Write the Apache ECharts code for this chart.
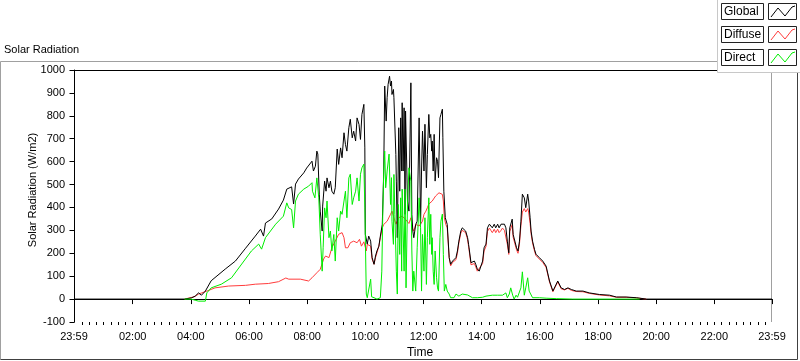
<!DOCTYPE html>
<html>
<head>
<meta charset="utf-8">
<script src="https://cdn.jsdelivr.net/npm/echarts@6/dist/echarts.min.js"></script>
<style>
  html, body { margin: 0; padding: 0; background: #fff; }
  #chart { width: 800px; height: 361px; }
</style>
</head>
<body>
<div id="chart"></div>
<script>
// time axis in minutes since midnight, -1 = 23:59 of the previous day
const timeTicks = [-1, 120, 240, 360, 480, 600, 720, 840, 960, 1080, 1200, 1320, 1439];
const timeTickLabels = ['23:59', '02:00', '04:00', '06:00', '08:00', '10:00', '12:00',
    '14:00', '16:00', '18:00', '20:00', '22:00', '23:59'];
const seriesNames = ['Global', 'Diffuse', 'Direct'];
const seriesColors = ['#000000', '#ff3c3c', '#00ee00'];

// [minute, W/m2]
const globalPoints = [
    [-1, 0], [227, 0], [241, 5], [249, 13], [256, 27], [262, 17], [270, 35], [282, 80], [311, 131],
    [332, 166], [353, 222], [373, 275], [384, 305], [390, 275], [394, 332], [407, 350], [421, 393],
    [431, 432], [438, 480], [448, 490], [452, 415], [456, 502], [462, 524], [473, 551], [479, 572],
    [483, 580], [490, 602], [493, 559], [497, 580], [500, 646], [502, 633], [505, 458], [507, 384],
    [511, 297], [512, 406], [516, 515], [519, 471], [521, 529], [525, 486], [528, 515], [531, 471],
    [535, 458], [538, 486], [542, 655], [545, 588], [549, 660], [552, 617], [556, 726], [559, 675],
    [562, 646], [566, 748], [569, 785], [573, 704], [576, 733], [580, 690], [583, 791], [587, 762],
    [590, 697], [593, 806], [597, 850], [599, 660], [600, 283], [604, 240], [607, 275], [611, 253],
    [614, 181], [618, 152], [621, 188], [624, 210], [628, 231], [631, 275], [635, 326], [638, 559],
    [640, 930], [643, 777], [645, 879], [647, 937], [650, 973], [652, 930], [654, 952], [655, 893],
    [658, 915], [659, 879], [663, 631], [664, 515], [666, 268], [669, 748], [671, 471], [673, 791],
    [675, 559], [676, 857], [678, 559], [680, 835], [682, 370], [683, 821], [687, 428], [690, 384],
    [694, 944], [696, 370], [698, 297], [700, 268], [704, 326], [707, 340], [711, 791], [714, 326],
    [716, 559], [718, 733], [721, 559], [723, 763], [726, 486], [728, 631], [731, 806], [733, 704],
    [735, 719], [737, 646], [738, 690], [740, 559], [742, 719], [744, 515], [747, 617], [749, 602],
    [751, 530], [754, 791], [756, 806], [759, 829], [760, 704], [762, 471], [765, 355], [769, 326],
    [773, 181], [776, 152], [780, 166], [783, 159], [787, 181], [790, 210], [793, 253], [797, 297],
    [800, 311], [804, 304], [807, 297], [811, 268], [813, 239], [814, 224], [818, 159], [821, 151],
    [825, 166], [828, 151], [831, 131], [835, 122], [842, 166], [845, 224], [849, 240], [852, 311],
    [856, 327], [859, 319], [862, 311], [866, 327], [869, 311], [873, 327], [876, 311], [880, 327],
    [883, 333], [887, 327], [890, 311], [893, 253], [896, 202], [898, 311], [903, 349], [905, 282],
    [909, 282], [912, 224], [915, 210], [918, 253], [921, 340], [924, 458], [928, 442], [931, 399],
    [935, 458], [937, 428], [940, 355], [942, 297], [945, 253], [949, 217], [952, 196], [959, 181],
    [966, 166], [973, 144], [980, 79], [987, 35], [990, 42], [997, 79], [1004, 49], [1011, 42],
    [1018, 49], [1025, 42], [1028, 49], [1035, 35], [1049, 35], [1062, 27], [1083, 20], [1104, 17],
    [1118, 9], [1138, 9], [1159, 6], [1180, 0], [1439, 0]
];

const diffusePoints = [
    [227, 0], [247, 10], [256, 22], [273, 35], [290, 49], [318, 57], [353, 60], [373, 65], [400, 68],
    [421, 76], [436, 92], [442, 87], [466, 87], [469, 79], [483, 79], [490, 93], [500, 115], [507, 130],
    [514, 175], [518, 188], [525, 181], [531, 224], [538, 253], [545, 283], [552, 290], [556, 268],
    [559, 224], [564, 224], [569, 246], [576, 253], [583, 246], [588, 261], [592, 231], [597, 250],
    [602, 210], [604, 239], [611, 231], [614, 175], [618, 152], [621, 181], [624, 202], [628, 231],
    [631, 268], [635, 311], [638, 326], [642, 319], [645, 340], [649, 348], [652, 370], [655, 384],
    [659, 355], [663, 327], [666, 333], [669, 355], [673, 348], [676, 362], [680, 370], [683, 348],
    [687, 355], [690, 330], [694, 355], [697, 311], [700, 297], [704, 326], [711, 319], [718, 340],
    [721, 370], [725, 384], [728, 399], [731, 415], [738, 428], [745, 450], [749, 458], [752, 464],
    [756, 469], [759, 457], [761, 428], [763, 355], [766, 326], [769, 311], [773, 181], [776, 145],
    [780, 160], [783, 152], [787, 172], [790, 200], [793, 245], [797, 288], [800, 300], [804, 295],
    [807, 290], [811, 260], [813, 230], [814, 215], [818, 150], [821, 145], [825, 155], [828, 140],
    [831, 122], [835, 115], [842, 155], [845, 210], [849, 230], [852, 295], [856, 310], [859, 300],
    [862, 290], [866, 305], [869, 290], [873, 305], [876, 290], [880, 300], [883, 310], [887, 300],
    [890, 295], [893, 240], [896, 195], [898, 295], [903, 325], [905, 270], [909, 265], [912, 215],
    [915, 200], [918, 240], [921, 320], [924, 380], [928, 395], [931, 380], [935, 395], [937, 380],
    [940, 330], [942, 285], [945, 245], [949, 210], [952, 190], [959, 175], [966, 160], [973, 138],
    [980, 75], [987, 32], [990, 38], [997, 75], [1004, 45], [1011, 40], [1018, 47], [1025, 38],
    [1028, 46], [1035, 33], [1049, 32], [1062, 25], [1083, 18], [1104, 14], [1118, 8], [1138, 8],
    [1159, 5], [1180, 0]
];

const directPoints = [
    [227, 0], [241, 0], [249, -5], [256, -9], [270, -9], [273, 27], [282, 49], [303, 65], [324, 93],
    [345, 153], [365, 210], [380, 240], [386, 218], [394, 268], [415, 327], [431, 362], [438, 420],
    [442, 398], [448, 391], [452, 311], [456, 428], [462, 458], [473, 480], [483, 493], [490, 508],
    [491, 471], [496, 442], [500, 529], [504, 442], [507, 283], [511, 122], [513, 224], [516, 398],
    [519, 355], [521, 428], [525, 268], [528, 297], [531, 210], [535, 282], [538, 166], [542, 355],
    [545, 297], [549, 384], [552, 370], [556, 428], [559, 471], [562, 355], [566, 529], [569, 545],
    [573, 413], [576, 442], [580, 471], [583, 529], [587, 428], [590, 545], [593, 573], [597, 589],
    [599, 398], [602, 22], [604, 6], [607, 13], [611, 87], [613, 10], [614, 13], [618, 6], [624, 0],
    [631, 6], [634, 122], [636, 371], [638, 559], [640, 646], [642, 486], [645, 559], [649, 633],
    [652, 413], [654, 530], [655, 340], [658, 239], [659, 544], [661, 370], [664, 122], [666, 22],
    [668, 413], [669, 340], [671, 195], [673, 442], [675, 122], [676, 480], [680, 122], [682, 480],
    [684, 49], [687, 413], [690, 573], [694, 515], [696, 210], [698, 35], [700, 122], [704, 35],
    [707, 224], [711, 442], [714, 311], [716, 35], [718, 282], [721, 122], [723, 355], [726, 64],
    [728, 268], [730, 384], [731, 442], [733, 239], [735, 370], [737, 195], [738, 268], [740, 122],
    [742, 64], [744, 210], [747, 93], [749, 49], [751, 35], [754, 268], [756, 340], [759, 371],
    [761, 195], [763, 35], [766, 64], [769, 35], [773, 22], [776, 6], [783, 6], [787, 22], [793, 13],
    [800, 22], [811, 18], [814, 13], [821, 6], [831, 6], [842, 8], [849, 13], [862, 17], [873, 17],
    [883, 17], [890, 27], [893, 6], [897, 22], [900, 49], [904, 17], [907, 0], [911, 17], [914, 8],
    [921, 49], [924, 119], [928, 17], [931, 49], [935, 93], [938, 35], [945, 6], [959, 6], [973, 4],
    [994, 2], [1028, 0], [1166, 0]
];

const chart = echarts.init(document.getElementById('chart'), null, { renderer: 'canvas' });
const font = 'Liberation Sans';

const minorTicks = [];
for (let m = 15; m < 1439; m += 15) minorTicks.push(m);

// drawn order: diffuse under global, direct on top
const drawOrder = [
    { name: seriesNames[1], color: seriesColors[1], data: diffusePoints },
    { name: seriesNames[0], color: seriesColors[0], data: globalPoints },
    { name: seriesNames[2], color: seriesColors[2], data: directPoints },
];

// legend boxes like the original front panel
const legendRows = [];
seriesNames.forEach((name, i) => {
    const top = 3 + i * 23;
    legendRows.push(
        { type: 'rect', z: 20, shape: { x: 721.5, y: top + 0.5, width: 42, height: 16 },
          style: { fill: '#fff', stroke: '#222', lineWidth: 1 } },
        { type: 'text', z: 21, x: 724, y: top + 9, style: { text: name, font: `12px "${font}"`,
          fill: '#000', verticalAlign: 'middle' } },
        { type: 'rect', z: 20, shape: { x: 768.5, y: top + 0.5, width: 28, height: 16 },
          style: { fill: '#fff', stroke: '#222', lineWidth: 1 } },
        { type: 'polyline', z: 21, shape: { points: [[771, top + 14], [778, top + 5], [785, top + 13], [792, top + 4], [795, top + 3]] },
          style: { stroke: seriesColors[i], lineWidth: 1, fill: null } }
    );
});

const option = {
    backgroundColor: '#fff',
    animation: false,
    textStyle: { fontFamily: font },
    grid: { left: 74, right: 28, top: 70, bottom: 39 },
    xAxis: [
        {
            type: 'value',
            min: -1,
            max: 1439,
            position: 'bottom',
            splitLine: { show: false },
            axisLine: { lineStyle: { color: '#000', width: 1 } },
            axisTick: { customValues: timeTicks, length: 5, lineStyle: { color: '#000' } },
            axisLabel: {
                customValues: timeTicks,
                margin: 9,
                color: '#000',
                fontSize: 11,
                fontFamily: font,
                formatter: (v) => timeTickLabels[timeTicks.indexOf(v)] ?? '',
            },
        },
        {
            type: 'value',
            min: -1,
            max: 1439,
            position: 'bottom',
            offset: 0,
            splitLine: { show: false },
            axisLine: { show: false },
            axisTick: { customValues: minorTicks, length: 3, lineStyle: { color: '#000' } },
            axisLabel: { show: false },
        },
    ],
    yAxis: {
        type: 'value',
        min: -100,
        max: 1000,
        interval: 100,
        splitLine: { show: false },
        axisLine: { show: true, lineStyle: { color: '#000', width: 1 } },
        axisTick: { show: true, length: 5, lineStyle: { color: '#000' } },
        axisLabel: { margin: 9, color: '#000', fontSize: 11, fontFamily: font, formatter: (v) => String(v) },
    },
    series: drawOrder.map((s) => ({
        name: s.name,
        type: 'line',
        data: s.data,
        showSymbol: false,
        symbol: 'none',
        sampling: 'none',
        lineStyle: { color: s.color, width: 1 },
        itemStyle: { color: s.color },
        emphasis: { disabled: true },
    })),
    graphic: [
        { type: 'text', x: 4, y: 44, style: { text: 'Solar Radiation', font: `11px "${font}"`, fill: '#000' } },
        // panel frame
        { type: 'polyline', shape: { points: [[717, 61.5], [0.5, 61.5], [0.5, 359.5]] },
          style: { stroke: '#a0a0a0', lineWidth: 1, fill: null } },
        { type: 'polyline', shape: { points: [[0.5, 359.5], [797.5, 359.5], [797.5, 72]] },
          style: { stroke: '#404040', lineWidth: 1, fill: null } },
        // plot border top / right
        { type: 'line', shape: { x1: 74, y1: 70.5, x2: 772, y2: 70.5 }, style: { stroke: '#000', lineWidth: 1 } },
        { type: 'line', shape: { x1: 771.5, y1: 70, x2: 771.5, y2: 322 }, style: { stroke: '#a0a0a0', lineWidth: 1 } },
        { type: 'text', x: 33, y: 190, rotation: Math.PI / 2,
          style: { text: 'Solar Radiation (W/m2)', font: `11px "${font}"`, fill: '#000', align: 'center', verticalAlign: 'middle' } },
        { type: 'text', x: 420, y: 353, style: { text: 'Time', font: `12px "${font}"`, fill: '#000', align: 'center', verticalAlign: 'middle' } },
        // legend panel
        { type: 'rect', z: 10, shape: { x: 717.5, y: -1, width: 84, height: 73.5 },
          style: { fill: '#fff', stroke: '#c8c8c8', lineWidth: 1 } },
        ...legendRows,
    ],
};

chart.setOption(option);
</script>
</body>
</html>
